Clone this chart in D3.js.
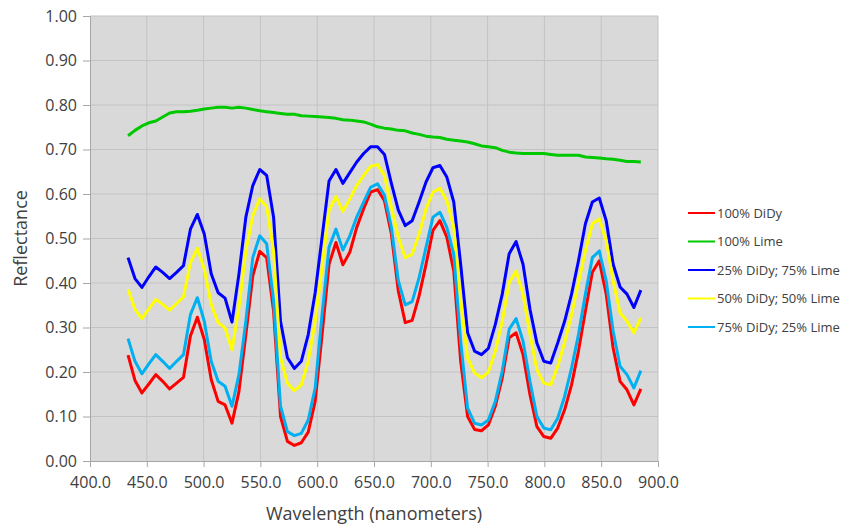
<!DOCTYPE html>
<html lang="en">
<head>
	<meta charset="UTF-8">
	<title>Reflectance</title>
	<script src="https://cdn.jsdelivr.net/npm/d3@7"></script>
	<style>
		body { margin: 0; background: #fff; }
		text { font-family: "Open Sans", "Noto Sans", sans-serif; fill: #404040; }
	</style>
</head>
<body>
	<svg id="grafico" width="852" height="527"></svg>
	<script>

	var wavelength = [433.5, 439.6, 445.7, 451.8, 457.9, 464.0, 470.1, 476.2, 482.3, 488.4,
		494.5, 500.6, 506.7, 512.8, 518.9, 525.0, 531.1, 537.2, 543.3, 549.4,
		555.5, 561.6, 567.7, 573.8, 579.9, 586.0, 592.1, 598.2, 604.3, 610.4,
		616.5, 622.6, 628.7, 634.8, 640.9, 647.0, 653.1, 659.2, 665.3, 671.4,
		677.5, 683.6, 689.7, 695.8, 701.9, 708.0, 714.1, 720.2, 726.3, 732.4,
		738.5, 744.6, 750.7, 756.8, 762.9, 769.0, 775.1, 781.2, 787.3, 793.4,
		799.5, 805.6, 811.7, 817.8, 823.9, 830.0, 836.1, 842.2, 848.3, 854.4,
		860.5, 866.6, 872.7, 878.8, 884.9];

	var didy100 = [0.238,0.181,0.153,0.173,0.194,0.179,0.162,0.175,0.188,0.281,0.323,0.273,0.183,0.134,0.126,0.085,0.156,0.284,0.416,0.471,
		0.457,0.337,0.100,0.044,0.035,0.041,0.065,0.134,0.284,0.442,0.491,0.441,0.469,0.525,0.567,0.604,0.610,0.585,0.510,0.382,
		0.311,0.316,0.371,0.442,0.518,0.540,0.503,0.427,0.224,0.100,0.071,0.068,0.081,0.123,0.187,0.277,0.288,0.239,0.149,0.077,
		0.055,0.051,0.074,0.115,0.171,0.247,0.337,0.424,0.450,0.375,0.254,0.179,0.160,0.126,0.162];

	var lime100 = [0.731,0.743,0.753,0.760,0.764,0.773,0.782,0.785,0.785,0.786,0.788,0.791,0.793,0.795,0.795,0.793,0.795,0.793,0.790,0.787,
		0.785,0.783,0.781,0.779,0.779,0.776,0.775,0.774,0.773,0.772,0.770,0.767,0.766,0.764,0.762,0.757,0.751,0.748,0.746,0.743,
		0.742,0.737,0.734,0.730,0.728,0.727,0.723,0.721,0.719,0.717,0.713,0.708,0.706,0.704,0.698,0.694,0.692,0.691,0.691,0.691,
		0.691,0.689,0.687,0.687,0.687,0.687,0.683,0.682,0.681,0.679,0.678,0.676,0.673,0.673,0.672];

	var didy25 = [0.457,0.410,0.390,0.414,0.436,0.424,0.410,0.424,0.439,0.521,0.554,0.510,0.421,0.378,0.366,0.312,0.420,0.548,0.619,0.655,
		0.642,0.548,0.314,0.232,0.208,0.224,0.284,0.378,0.503,0.629,0.655,0.624,0.648,0.672,0.691,0.706,0.706,0.689,0.624,0.564,
		0.529,0.540,0.582,0.627,0.659,0.664,0.638,0.582,0.442,0.288,0.247,0.239,0.253,0.307,0.375,0.466,0.493,0.442,0.341,0.265,
		0.224,0.220,0.265,0.314,0.375,0.450,0.533,0.582,0.591,0.540,0.442,0.391,0.375,0.345,0.384];

	var didy50 = [0.386,0.341,0.320,0.342,0.363,0.352,0.339,0.354,0.369,0.446,0.478,0.431,0.352,0.311,0.299,0.250,0.345,0.472,0.551,0.589,
		0.572,0.472,0.232,0.175,0.158,0.171,0.224,0.314,0.435,0.563,0.594,0.561,0.589,0.619,0.642,0.662,0.666,0.642,0.570,0.503,
		0.457,0.465,0.510,0.567,0.604,0.613,0.585,0.525,0.360,0.232,0.198,0.187,0.200,0.247,0.314,0.401,0.427,0.375,0.284,0.205,
		0.175,0.171,0.213,0.266,0.329,0.401,0.472,0.533,0.544,0.495,0.405,0.333,0.314,0.288,0.322];

	var didy75 = [0.275,0.224,0.196,0.218,0.239,0.224,0.208,0.224,0.239,0.329,0.367,0.314,0.224,0.179,0.168,0.123,0.194,0.314,0.457,0.506,
		0.488,0.360,0.123,0.066,0.057,0.062,0.092,0.164,0.330,0.480,0.521,0.474,0.506,0.548,0.582,0.615,0.623,0.597,0.525,0.405,
		0.351,0.358,0.412,0.480,0.548,0.559,0.525,0.465,0.269,0.119,0.085,0.081,0.092,0.134,0.202,0.296,0.320,0.269,0.179,0.100,
		0.074,0.070,0.096,0.145,0.209,0.284,0.375,0.457,0.472,0.405,0.292,0.213,0.194,0.164,0.203];

	var seriesNames = ["100% DiDy", "100% Lime", "25% DiDy; 75% Lime", "50% DiDy; 50% Lime", "75% DiDy; 25% Lime"];
	var seriesValues = [didy100, lime100, didy25, didy50, didy75];
	var seriesColors = ["#ff0000", "#00c800", "#0000ff", "#ffff00", "#00b0f0"];

	var xTicks = [400, 450, 500, 550, 600, 650, 700, 750, 800, 850, 900];
	var yTicks = [0, 0.1, 0.2, 0.3, 0.4, 0.5, 0.6, 0.7, 0.8, 0.9, 1.0];

	var plotLeft = 90, plotRight = 658, plotTop = 16, plotBottom = 461;

	var x = d3.scaleLinear().domain([400, 900]).range([plotLeft, plotRight]);
	var y = d3.scaleLinear().domain([0, 1]).range([plotBottom, plotTop]);

	var svg = d3.select("#grafico");

	// fundo da area do grafico
	svg.append("rect")
		.attr("x", plotLeft).attr("y", plotTop)
		.attr("width", plotRight - plotLeft).attr("height", plotBottom - plotTop)
		.attr("fill", "#d9d9d9");

	// grades
	svg.append("g").selectAll("line").data(yTicks.slice(1)).enter().append("line")
		.attr("x1", plotLeft).attr("x2", plotRight)
		.attr("y1", function(d){ return y(d); }).attr("y2", function(d){ return y(d); })
		.attr("stroke", "#c3c3c3").attr("stroke-width", 1);
	svg.append("g").selectAll("line").data(xTicks.slice(1)).enter().append("line")
		.attr("y1", plotTop).attr("y2", plotBottom)
		.attr("x1", function(d){ return x(d); }).attr("x2", function(d){ return x(d); })
		.attr("stroke", "#c3c3c3").attr("stroke-width", 1);

	var xAxis = svg.append("g")
		.attr("transform", "translate(0," + plotBottom + ")")
		.call(d3.axisBottom(x).tickValues(xTicks).tickFormat(d3.format(".1f")).tickSize(6).tickPadding(10));
	var yAxis = svg.append("g")
		.attr("transform", "translate(" + plotLeft + ",0)")
		.call(d3.axisLeft(y).tickValues(yTicks).tickFormat(d3.format(".2f")).tickSize(7).tickPadding(6));

	[xAxis, yAxis].forEach(function(a){
		a.select(".domain").attr("stroke", "#a6a6a6");
		a.selectAll(".tick line").attr("stroke", "#a6a6a6");
		a.selectAll(".tick text").style("font-size", "16px").style("font-family", "'Open Sans', sans-serif").attr("fill", "#404040");
	});

	var line = d3.line()
		.x(function(d, i){ return x(wavelength[i]); })
		.y(function(d){ return y(d); });

	seriesValues.forEach(function(vals, k){
		svg.append("path")
			.datum(vals)
			.attr("d", line)
			.attr("fill", "none")
			.attr("stroke", seriesColors[k])
			.attr("stroke-width", 3)
			.attr("stroke-linejoin", "round");
	});

	// titulos dos eixos
	svg.append("text")
		.attr("x", (plotLeft + plotRight) / 2).attr("y", 520)
		.style("text-anchor", "middle")
		.style("font-size", "18px")
		.text("Wavelength (nanometers)");
	svg.append("text")
		.attr("transform", "translate(27," + ((plotTop + plotBottom) / 2) + ") rotate(-90)")
		.style("text-anchor", "middle")
		.style("font-size", "18px")
		.text("Reflectance");

	// legenda
	var legend = svg.append("g").selectAll("g").data(seriesNames).enter().append("g")
		.attr("transform", function(d, i){ return "translate(688," + (213 + i * 28.5) + ")"; });
	legend.append("line")
		.attr("x1", 0).attr("x2", 27).attr("y1", 0).attr("y2", 0)
		.attr("stroke", function(d, i){ return seriesColors[i]; })
		.attr("stroke-width", 2);
	legend.append("text")
		.attr("x", 29).attr("y", 0).attr("dy", ".35em")
		.style("font-size", "13px")
		.text(function(d){ return d; });

	</script>
</body>
</html>
